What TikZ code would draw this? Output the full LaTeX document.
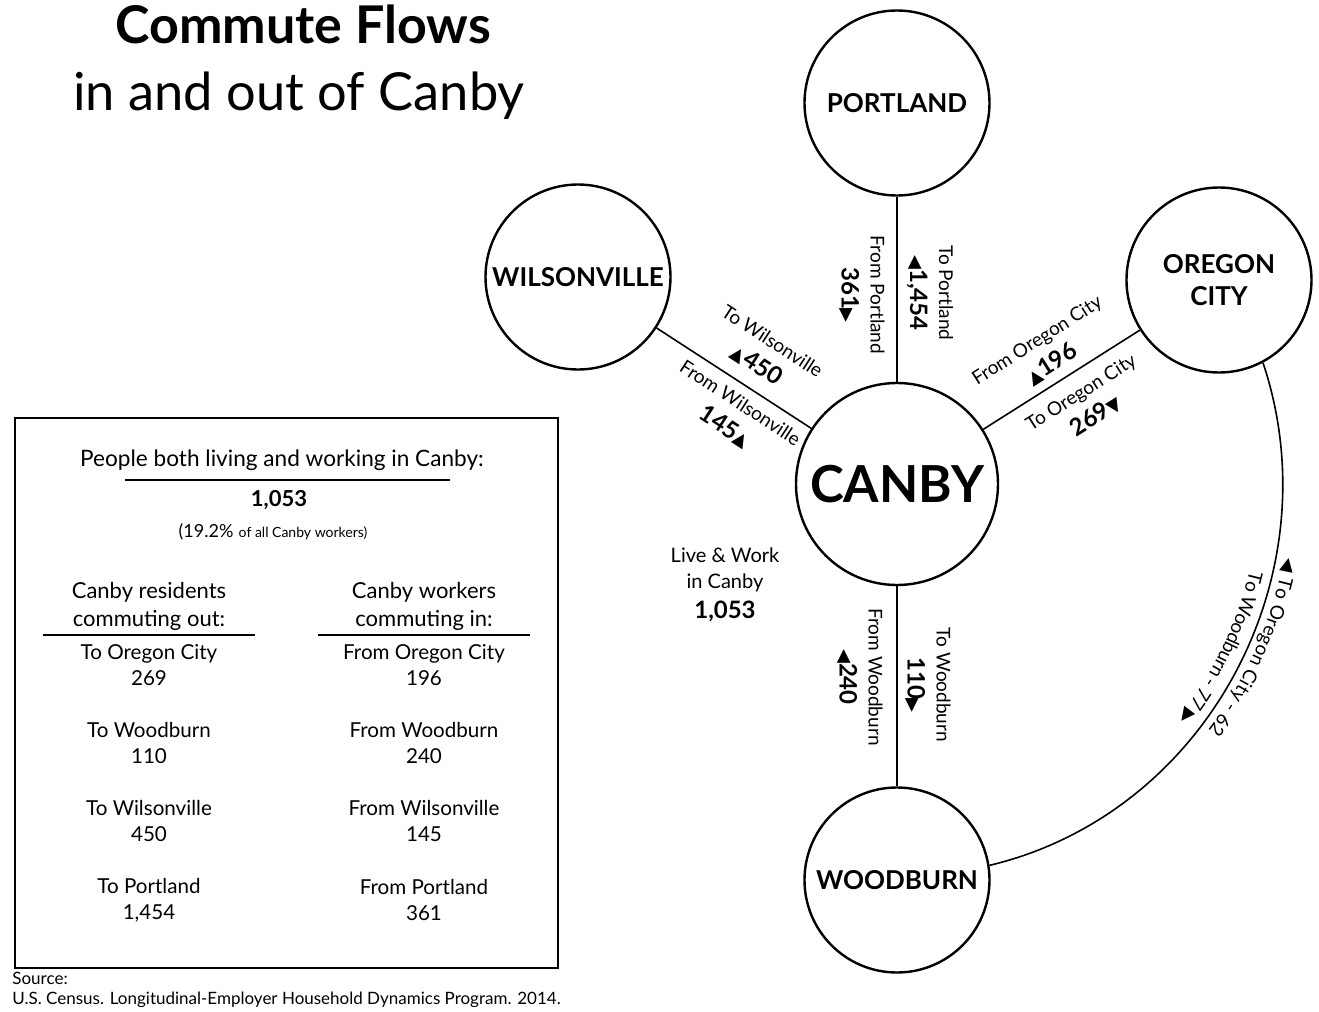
\documentclass[tikz,border=0pt]{standalone}
\usepackage{fontspec}
\setmainfont{Lato}
\newfontfamily\symfont{DejaVu Sans}
\usetikzlibrary{decorations.text}
\tikzstyle{town}=[circle,draw,line width=1.2pt,minimum size=92.5pt,inner sep=0pt,align=center,font=\bfseries\fontsize{13}{16}\selectfont]
\tikzstyle{bigtown}=[town,minimum size=101pt,font=\bfseries\fontsize{25.5}{30}\selectfont]
\tikzstyle{link}=[draw,line width=0.8pt]
\tikzstyle{flow}=[align=center,inner sep=0pt,font=\fontsize{9.5}{14.5}\selectfont]
\tikzstyle{boxtext}=[align=center,inner sep=0pt,font=\fontsize{10.3}{13}\selectfont]
\newcommand{\flownum}[1]{{\bfseries\fontsize{12}{14.5}\selectfont #1}}
\newcommand{\arrowtri}[1]{{\symfont\fontsize{9}{14.5}\selectfont #1}}
\begin{document}
\begin{tikzpicture}[x=0.5pt,y=-0.5pt]
\useasboundingbox (0,0) rectangle (1319,1012);

    % title
    \node[anchor=base,font=\bfseries\fontsize{26}{30}\selectfont] (title) at (303,43) {Commute Flows};
    \node[anchor=base,font=\fontsize{26.2}{32}\selectfont] (subtitle) at (299,110) {in and out of Canby};

    % towns
    \node[bigtown] (canby) at (897,484) {CANBY};
    \node[town] (portland) at (897,103) {PORTLAND};
    \node[town] (wilsonville) at (578,277) {WILSONVILLE};
    \node[town] (oregon) at (1219,280) {OREGON\\CITY};
    \node[town] (woodburn) at (897,880) {WOODBURN};

    % Connect towns to Canby
    \foreach \dest in {portland,wilsonville,oregon,woodburn}
        \path[link] (canby) -- (\dest);

    % Oregon City - Woodburn arc with its labels
    \path[link,
        postaction={decorate,decoration={text along path,raise=4pt,text align={left,left indent=98pt},
            text={|\symfont\fontsize{9}{9}\selectfont|◀|\normalfont\fontsize{9.5}{9.5}\selectfont| To Oregon City - 62}}},
        postaction={decorate,decoration={text along path,raise=-11.5pt,text align={left,left indent=108pt},
            text={|\fontsize{9.5}{9.5}\selectfont|To Woodburn - 77 |\symfont\fontsize{9}{9}\selectfont|▶}}}]
        (oregon.-62) to[out=-71.5,in=13.4] (woodburn.9);

    % flow labels
    \node[flow,rotate=-90] (pdx-in) at (862,295) {From Portland\\\flownum{361}\arrowtri{▶}};
    \node[flow,rotate=-90] (pdx-out) at (930,293) {To Portland\\\arrowtri{◀}\flownum{1,454}};
    \node[flow,rotate=-90] (wdb-in) at (860,677) {From Woodburn\\\arrowtri{◀}\flownum{240}};
    \node[flow,rotate=-90] (wdb-out) at (928,685) {To Woodburn\\\flownum{110}\arrowtri{▶}};
    \node[flow,rotate=-33] (wil-out) at (764,354) {To Wilsonville\\\arrowtri{▲}\flownum{450}};
    \node[flow,rotate=-33] (wil-in) at (732,416) {From Wilsonville\\\flownum{145}\arrowtri{▲}};
    \node[flow,rotate=32.4] (orc-in) at (1045,353) {From Oregon City\\\arrowtri{▲}\flownum{196}};
    \node[flow,rotate=32.4] (orc-out) at (1089,405) {To Oregon City\\\flownum{269}\arrowtri{▼}};

    \node[flow,font=\fontsize{10}{13}\selectfont] (live) at (725,585) {Live \& Work\\in Canby\\[2pt]\flownum{1,053}};

    % summary panel
    \node[draw,line width=1pt,minimum width=271.5pt,minimum height=275pt,inner sep=0pt] (panel) at (286.5,693) {};
    \node[boxtext,font=\fontsize{11.3}{13}\selectfont] (both) at (282,460) {People both living and working in Canby:};
    \draw[line width=0.8pt] (125,480) -- (450,480);
    \node[boxtext,font=\bfseries\fontsize{11}{13}\selectfont] (bothnum) at (279,500) {1,053};
    \node[boxtext] (share) at (273,532) {{\fontsize{9}{11}\selectfont (19.2\%} {\fontsize{7}{9}\selectfont of all Canby workers)}};

    \node[boxtext,font=\fontsize{11}{14}\selectfont] (outhead) at (149,606) {Canby residents\\commuting out:};
    \node[boxtext,font=\fontsize{11}{14}\selectfont] (inhead) at (424,606) {Canby workers\\commuting in:};
    \draw[line width=0.8pt] (43,635) -- (255,635);
    \draw[line width=0.8pt] (318,635) -- (530,635);

    \foreach \y/\place/\nout/\nin in {665/Oregon City/269/196, 743/Woodburn/110/240, 821/Wilsonville/450/145, 900/Portland/{1,454}/361} {
        \node[boxtext] (out-\y) at (149,\y) {To \place\\\nout};
        \node[boxtext] (in-\y) at (424,\y) {From \place\\\nin};
    }

    % source
    \node[anchor=west,inner sep=0pt,font=\fontsize{8.5}{9}\selectfont] (src) at (12,978) {Source:};
    \node[anchor=west,inner sep=0pt,font=\fontsize{8.5}{9}\selectfont] (srcline) at (12,1000) {U.S. Census. Longitudinal-Employer Household Dynamics Program. 2014.};

\end{tikzpicture}
\end{document}
